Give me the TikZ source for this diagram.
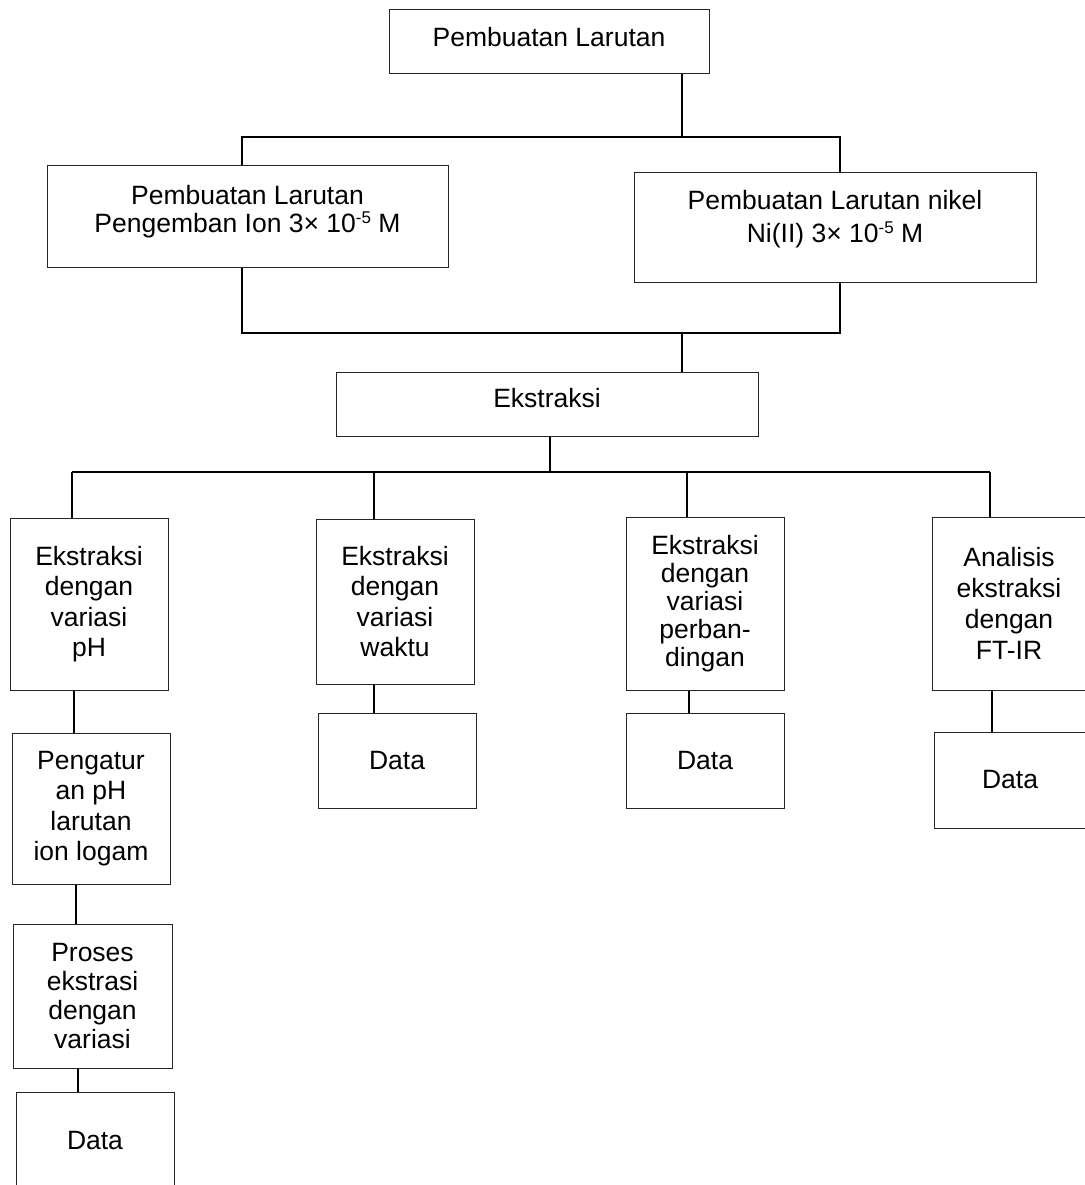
\documentclass[tikz,border=0pt]{standalone}
\usepackage{fontspec}
\setmainfont{Liberation Sans}
\usetikzlibrary{positioning}
\usetikzlibrary{calc}
\tikzset{kotak/.style={draw=black!85, line width=1pt, inner sep=0pt, align=center, font=\fontsize{26.5}{30.3}\selectfont}}
\tikzset{tulisan/.style={inner sep=0pt, align=center, font=\fontsize{26.5}{28.5}\selectfont}}
\tikzset{sambung/.style={line width=1.4pt, black}}
\newcommand{\pangkat}[1]{\raisebox{9pt}{\fontsize{17}{17}\selectfont #1}}

\begin{document}
\begin{tikzpicture}[x=1pt, y=-1pt]
\useasboundingbox (0,0) rectangle (1084,1185);

% larutan
\node[kotak, minimum width=320pt, minimum height=64pt] (top) at (549,42) {};
\node[tulisan] (topT) at ([yshift=5pt]top.center) {Pembuatan Larutan};

\node[kotak, minimum width=401pt, minimum height=101pt] (peng) at (247.5,216.5) {};
\node[tulisan] (pengT) at ([yshift=5pt]peng.center) {Pembuatan Larutan\\Pengemban Ion 3× 10\pangkat{-5} M};

\node[kotak, minimum width=402pt, minimum height=109pt] (nikel) at (835,227.5) {};
\node[tulisan, font=\fontsize{26.5}{33}\selectfont] (nikelT) at ([yshift=8pt]nikel.center) {Pembuatan Larutan nikel\\Ni(II) 3× 10\pangkat{-5} M};

\node[kotak, minimum width=422pt, minimum height=64pt] (ekstr) at (547,404) {};
\node[tulisan] (ekstrT) at ([yshift=5.5pt]ekstr.center) {Ekstraksi};

% cabang ekstraksi
\node[kotak, minimum width=158pt, minimum height=172pt] (ph) at (89,604) {Ekstraksi\\dengan\\variasi\\pH};
\node[kotak, minimum width=158pt, minimum height=165pt] (waktu) at (395,601.5) {Ekstraksi\\dengan\\variasi\\waktu};
\node[kotak, minimum width=158pt, minimum height=173pt, font=\fontsize{26.5}{28}\selectfont] (banding) at (705,603.5) {Ekstraksi\\dengan\\variasi\\perban-\\dingan};
\node[kotak, minimum width=154pt, minimum height=173pt, font=\fontsize{26.5}{31}\selectfont] (ftir) at (1009,603.5) {Analisis\\ekstraksi\\dengan\\FT-IR};

\node[kotak, minimum width=158pt, minimum height=151pt] (atur) at (91,808.5) {Pengatur\\an pH\\larutan\\ion logam};
\node[kotak, minimum width=159pt, minimum height=144pt, font=\fontsize{26.5}{29.3}\selectfont] (proses) at (92.5,996) {Proses\\ekstrasi\\dengan\\variasi};

\node[kotak, minimum width=158pt, minimum height=96pt] (data1) at (95,1140) {Data};
\node[kotak, minimum width=158pt, minimum height=95pt] (data2) at (397,760.5) {Data};
\node[kotak, minimum width=158pt, minimum height=95pt] (data3) at (705,760.5) {Data};
\node[kotak, minimum width=152pt, minimum height=96pt] (data4) at (1010,780) {Data};

% garis
\coordinate (a1) at (682,137);
\coordinate (a2) at (242,137);
\coordinate (a3) at (840,137);
\draw[sambung] (top.south -| a1) -- (a1);
\draw[sambung] (peng.north -| a2) -- (a2) -- (a3) -- (nikel.north -| a3);

\coordinate (c1) at (242,333);
\coordinate (c2) at (840,333);
\coordinate (c3) at (682,333);
\draw[sambung] (peng.south -| c1) -- (c1) -- (c2) -- (nikel.south -| c2);
\draw[sambung] (c3) -- (ekstr.north -| c3);

\coordinate (d0) at (550,472);
\coordinate (d1) at (72,472);
\coordinate (d2) at (374,472);
\coordinate (d3) at (687,472);
\coordinate (d4) at (990,472);
\draw[sambung] (ekstr.south -| d0) -- (d0);
\draw[sambung] (d1) -- (d4);
\foreach \k/\n in {d1/ph, d2/waktu, d3/banding, d4/ftir}
  \draw[sambung] (\k) -- (\n.north -| \k);

\foreach \a/\b/\x in {ph/atur/74, atur/proses/76, proses/data1/78, waktu/data2/374, banding/data3/689, ftir/data4/992}
  \draw[sambung] (\x,0 |- \a.south) -- (\x,0 |- \b.north);

\end{tikzpicture}
\end{document}
